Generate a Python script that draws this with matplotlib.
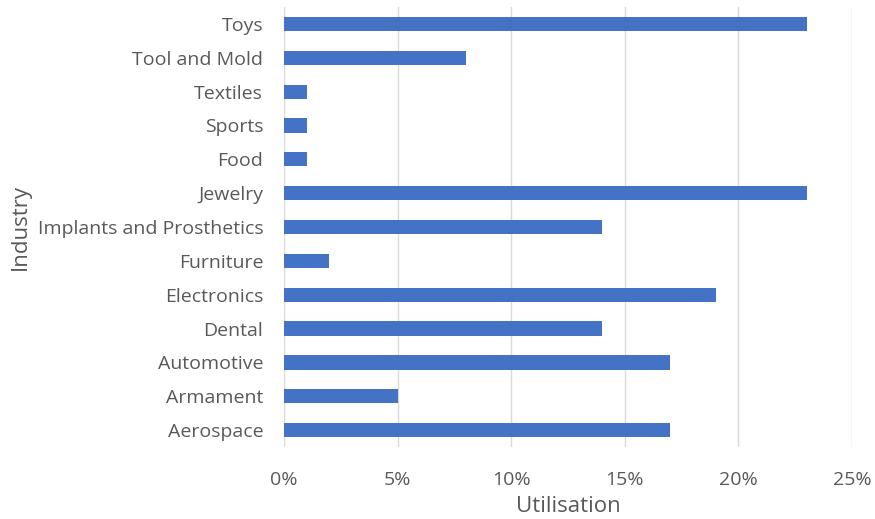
import matplotlib
matplotlib.use('Agg')
import matplotlib.pyplot as plt
from matplotlib.ticker import PercentFormatter

industries = ['Aerospace', 'Armament', 'Automotive', 'Dental', 'Electronics',
              'Furniture', 'Implants and Prosthetics', 'Jewelry', 'Food',
              'Sports', 'Textiles', 'Tool and Mold', 'Toys']
utilisation = [17, 5, 17, 14, 19, 2, 14, 23, 1, 1, 1, 8, 23]
xticks = [0, 5, 10, 15, 20, 25]

plt.rcParams['font.family'] = ['Open Sans', 'DejaVu Sans']
grey = '#595959'

fig = plt.figure(figsize=(8.75, 5.19), dpi=100)
ax = fig.add_axes([0.3246, 0.1387, 0.6491, 0.8478])

ax.barh(range(len(industries)), utilisation, height=0.42, color='#4472C4',
        zorder=3)
ax.set_yticks(range(len(industries)))
ax.set_yticklabels(industries)
ax.set_ylim(-0.5, len(industries) - 0.5)
ax.set_xlim(0, 25)
ax.set_xticks(xticks)
ax.xaxis.set_major_formatter(PercentFormatter(decimals=0))
ax.grid(axis='x', color='#d9d9d9', lw=1, zorder=0)
for s in ax.spines.values():
    s.set_visible(False)
ax.tick_params(length=0, labelsize=14, colors=grey)
ax.tick_params(axis='x', pad=17)
ax.tick_params(axis='y', pad=15)
ax.set_xlabel('Utilisation', fontsize=16, color=grey, labelpad=5)
ax.set_ylabel('Industry', fontsize=16, color=grey, labelpad=5)

fig.savefig('out.png')
